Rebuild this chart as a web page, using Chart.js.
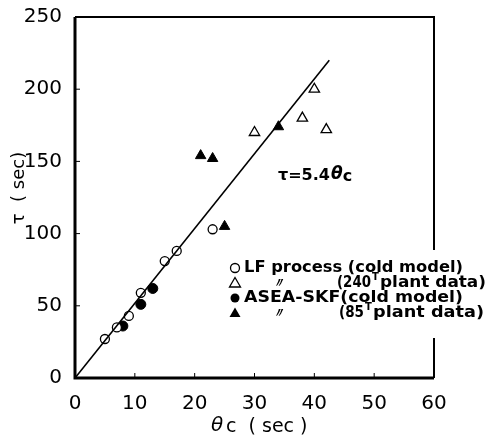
<!DOCTYPE html>
<html>
<head>
<meta charset="utf-8">
<script src="https://cdn.jsdelivr.net/npm/chart.js@4/dist/chart.umd.min.js"></script>
<style>
  html, body { margin: 0; padding: 0; background: #fff; }
  #wrap { width: 488px; height: 439px; position: relative; }
</style>
</head>
<body>
<div id="wrap"><canvas id="c" width="488" height="439"></canvas></div>
<script>
// residence time tau vs theta_c
const lfX = [5, 7, 9, 11, 15, 17, 23];          // LF process (cold model)
const lfY = [27, 35, 43, 59, 81, 88, 103];
const lf240X = [30, 38, 40, 42];                 // LF 240T plant data
const lf240Y = [170, 180, 200, 172];
const aseaX = [8, 11, 13];                       // ASEA-SKF (cold model)
const aseaY = [36, 51, 62];
const asea85X = [21, 23, 25, 34];                // ASEA-SKF 85T plant data
const asea85Y = [154, 152, 105, 174];
const fitX = [0, 42.5];                          // tau = 5.4 theta_c
const fitY = [0, 220];
const xTicks = [0, 10, 20, 30, 40, 50, 60];
const yTicks = [0, 50, 100, 150, 200, 250];

const pts = (xs, ys) => xs.map((x, i) => ({ x, y: ys[i] }));
const FONT = '"DejaVu Sans", sans-serif';

/* -------------------- frame, inward ticks, titles, legend -------------------- */
const decor = {
  id: 'decor',
  afterDraw(chart) {
    const { ctx, chartArea: a, scales: { x, y } } = chart;
    ctx.save();
    ctx.strokeStyle = '#000';
    // frame: heavier left/bottom, right side broken where the legend sits
    ctx.lineWidth = 2;
    ctx.beginPath();
    ctx.moveTo(a.left, a.top); ctx.lineTo(a.right, a.top); ctx.lineTo(a.right, 250);
    ctx.moveTo(a.right, 338); ctx.lineTo(a.right, a.bottom);
    ctx.stroke();
    ctx.lineWidth = 3;
    ctx.beginPath();
    ctx.moveTo(a.left, a.top); ctx.lineTo(a.left, a.bottom); ctx.lineTo(a.right, a.bottom);
    ctx.stroke();
    // inward ticks
    ctx.lineWidth = 1;
    ctx.beginPath();
    xTicks.slice(1, -1).forEach(v => { const p = x.getPixelForValue(v); ctx.moveTo(p, a.bottom); ctx.lineTo(p, a.bottom - 5); });
    yTicks.slice(1, -1).forEach(v => { const p = y.getPixelForValue(v); ctx.moveTo(a.left, p); ctx.lineTo(a.left + 5, p); });
    ctx.stroke();

    ctx.fillStyle = '#000';
    ctx.textBaseline = 'middle';
    // y title
    ctx.save();
    ctx.translate(19, 188);
    ctx.rotate(-Math.PI / 2);
    ctx.textAlign = 'center';
    ctx.font = '18px ' + FONT;
    ctx.fillText('τ  ( sec)', 0, 0);
    ctx.restore();
    // x title
    ctx.textAlign = 'left';
    ctx.font = 'italic 20px ' + FONT;
    ctx.fillText('θ', 211, 426);
    ctx.font = '19px ' + FONT;
    ctx.fillText('c  ( sec )', 226, 427);
    // equation
    ctx.font = 'bold 16px ' + FONT;
    ctx.fillText('τ=5.4', 278, 176);
    let w = ctx.measureText('τ=5.4').width;
    ctx.font = 'italic bold 17px ' + FONT;
    ctx.fillText('θ', 278 + w + 1, 175);
    let w2 = ctx.measureText('θ').width;
    ctx.font = 'bold 16px ' + FONT;
    ctx.fillText('c', 278 + w + w2 + 1, 177);

    // legend
    const sym = (kind, cx, cy) => {
      ctx.beginPath();
      if (kind === 'circle') ctx.arc(cx, cy, 4.5, 0, Math.PI * 2);
      else { ctx.moveTo(cx, cy - 5.5); ctx.lineTo(cx + 5.5, cy + 4); ctx.lineTo(cx - 5.5, cy + 4); ctx.closePath(); }
    };
    const rows = [
      { kind: 'circle', fill: false, y: 268 },
      { kind: 'tri', fill: false, y: 283 },
      { kind: 'circle', fill: true, y: 298 },
      { kind: 'tri', fill: true, y: 313 }
    ];
    ctx.lineWidth = 1.3;
    rows.forEach(r => {
      sym(r.kind, 235, r.y);
      if (r.fill) { ctx.fill(); } else { ctx.fillStyle = '#fff'; ctx.fill(); ctx.fillStyle = '#000'; ctx.stroke(); }
    });
    // text fitted to the width it has in the figure
    const fit = (str, x0, x1, yy) => {
      const m = ctx.measureText(str).width;
      ctx.save();
      ctx.translate(x0, yy);
      ctx.scale((x1 - x0) / m, 1);
      ctx.fillText(str, 0, 0);
      ctx.restore();
    };
    ctx.font = 'bold 16px ' + FONT;
    fit('LF process (cold model)', 244, 463, 268);
    fit('ASEA-SKF(cold model)', 244, 463, 298);
    ctx.font = 'italic bold 13px ' + FONT;
    ctx.fillText('〃', 272, 284);
    ctx.fillText('〃', 272, 314);
    const plant = (num, yy, x0, xT, xEnd) => {
      ctx.font = 'bold 16px ' + FONT;
      fit('(' + num, x0, xT - 1, yy);
      ctx.font = 'bold 10px ' + FONT;
      ctx.fillText('T', xT, yy - 6);
      ctx.font = 'bold 16px ' + FONT;
      fit('plant data)', xT + 8, xEnd, yy);
    };
    plant('240', 283, 337, 372, 486);
    plant('85', 313, 339, 365, 484);
    ctx.restore();
  }
};

const tickFont = { family: FONT, size: 20 };

new Chart(document.getElementById('c'), {
  type: 'scatter',
  data: {
    datasets: [
      { label: 'fit', type: 'line', data: pts(fitX, fitY), borderColor: '#000', borderWidth: 1.6, pointRadius: 0, fill: false },
      { label: 'LF process (cold model)', data: pts(lfX, lfY), pointStyle: 'circle', pointRadius: 4.5, backgroundColor: '#fff', borderColor: '#000', borderWidth: 1.3 },
      { label: 'LF 240T plant data', data: pts(lf240X, lf240Y), pointStyle: 'triangle', pointRadius: 6, backgroundColor: '#fff', borderColor: '#000', borderWidth: 1.3 },
      { label: 'ASEA-SKF (cold model)', data: pts(aseaX, aseaY), pointStyle: 'circle', pointRadius: 5, backgroundColor: '#000', borderColor: '#000', borderWidth: 1 },
      { label: 'ASEA-SKF 85T plant data', data: pts(asea85X, asea85Y), pointStyle: 'triangle', pointRadius: 6, backgroundColor: '#000', borderColor: '#000', borderWidth: 1 }
    ]
  },
  options: {
    responsive: false, animation: false,
    layout: { padding: { top: 14, right: 54, left: 0, bottom: 0 } },
    plugins: { legend: { display: false }, tooltip: { enabled: false } },
    scales: {
      x: {
        type: 'linear', min: 0, max: 60,
        afterBuildTicks: s => { s.ticks = xTicks.map(v => ({ value: v })); },
        afterFit: s => { s.height = 61; },
        grid: { display: false }, border: { display: false },
        ticks: { color: '#000', font: tickFont, padding: 6, maxRotation: 0 }
      },
      y: {
        type: 'linear', min: 0, max: 250,
        afterBuildTicks: s => { s.ticks = yTicks.map(v => ({ value: v })); },
        afterFit: s => { s.width = 75; },
        grid: { display: false }, border: { display: false },
        ticks: { color: '#000', font: tickFont, padding: 5 }
      }
    }
  },
  plugins: [decor]
});
</script>
</body>
</html>
